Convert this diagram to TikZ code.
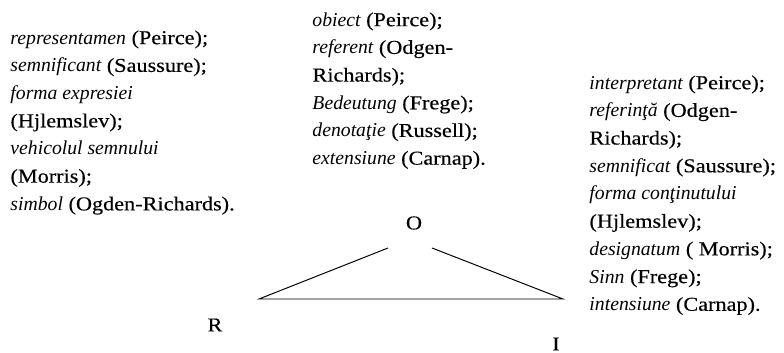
\documentclass[tikz,border=0pt]{standalone}
\usepackage{fontspec}
\setmainfont{Liberation Serif}
\newfontfamily\namefont[FakeStretch=1.13,FakeBold=0.3]{Liberation Serif}
\newfontfamily\termfont{Liberation Serif}
\newcommand{\term}[1]{{\termfont\itshape #1}}
\usetikzlibrary{positioning}

\begin{document}
\begin{tikzpicture}[x=0.025cm,
            y=-0.025cm,
            line width=0.7pt,
            every node/.style={font=\namefont\fontsize{14}{19.7}\selectfont},
            terms/.style={align=left, anchor=north west, inner sep=0pt},
            corner/.style={inner sep=0pt}]

        \useasboundingbox (0,0) rectangle (784,353);

        % the three lists of names
        \node[terms] (rlist) at (10,30)  {\term{representamen} (Peirce);\\
                                           \term{semnificant} (Saussure);\\
                                           \term{forma expresiei}\\
                                           (Hjlemslev);\\
                                           \term{vehicolul semnului}\\
                                           (Morris);\\
                                           \term{simbol} (Ogden-Richards).};
        \node[terms] (olist) at (312,12) {\term{obiect} (Peirce);\\
                                           \term{referent} (Odgen-\\
                                           Richards);\\
                                           \term{Bedeutung} (Frege);\\
                                           \term{denotaţie} (Russell);\\
                                           \term{extensiune} (Carnap).};
        \node[terms] (ilist) at (589,75) {\term{interpretant} (Peirce);\\
                                           \term{referinţă} (Odgen-\\
                                           Richards);\\
                                           \term{semnificat} (Saussure);\\
                                           \term{forma conţinutului}\\
                                           (Hjlemslev);\\
                                           \term{designatum} ( Morris);\\
                                           \term{Sinn} (Frege);\\
                                           \term{intensiune} (Carnap).};

        % the triangle
        \node[corner] (O) at (414,223) {O};
        \node[corner] (R) at (215,325) {R};
        \node[corner] (I) at (556,344) {I};

        \coordinate (rv) at (259,299);
        \coordinate (iv) at (563,299);
        \coordinate (ol) at (388,248);
        \coordinate (or) at (432,248);

        \draw (ol) -- (rv) -- (iv) -- (or);

    \end{tikzpicture}
\end{document}
